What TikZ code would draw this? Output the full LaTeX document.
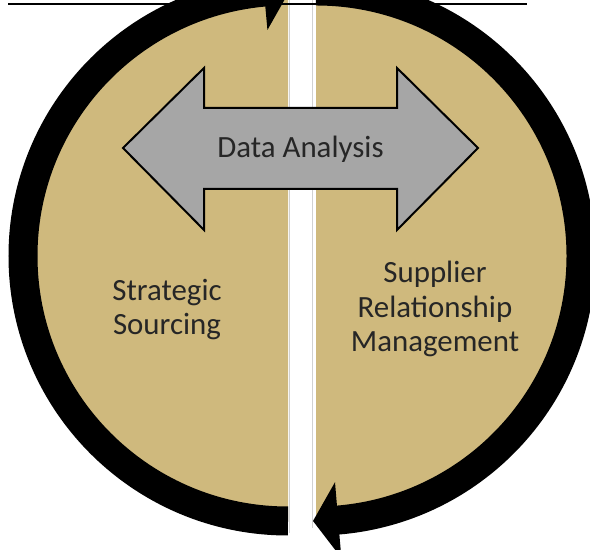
\documentclass[tikz,border=0pt]{standalone}
\usepackage{fontspec}
\setmainfont{Carlito}
\usetikzlibrary{calc}
\definecolor{sandtan}{RGB}{207,185,125}
\definecolor{arrowgray}{RGB}{166,166,166}
\definecolor{textdark}{RGB}{38,38,38}
\begin{document}
\begin{tikzpicture}[x=1bp,y=1bp,
  half/.style={fill=sandtan},
  ring/.style={line width=29bp,line cap=butt,black},
  seam/.style={draw=black!18,line width=0.8bp},
  label/.style={text=textdark,align=center,font=\fontsize{31}{34.5}\selectfont,inner sep=0pt},
  bigarrow/.style={fill=arrowgray,draw=black,line width=2bp,line join=miter}]
\useasboundingbox (0,0) rectangle (590,550);
\clip (0,0) rectangle (590,550);
\coordinate (CL) at (288,294);
\coordinate (CR) at (316,294);
% two half discs
\fill[half] (288,29) arc[start angle=270,end angle=90,radius=265] -- cycle;
\fill[half] (316,559) arc[start angle=90,end angle=-90,radius=265] -- cycle;
% edges of the gap between the halves
\draw[seam] (289.5,17) -- (289.5,550);
\draw[seam] (312.5,22) -- (312.5,550);
% rule across the top
\coordinate (ruleA) at (8,546);
\coordinate (ruleB) at (527,546);
\draw[line width=2.5bp] (ruleA) -- (ruleB);
% left ring, running up to the top arrowhead
\draw[ring] (288,29) arc[start angle=270,end angle=94.8,radius=265];
\fill ($(CL)+(95.2:227)$) -- ($(CL)+(95.2:303)$) -- (289.5,559) -- cycle;
% right ring, running down to the bottom arrowhead
\draw[ring] (316,559) arc[start angle=90,end angle=-85.6,radius=265];
\fill ($(CR)+(-85.2:227)$) -- ($(CR)+(-85.2:303)$) -- (313,29) -- cycle;
% double-headed arrow across the middle
\draw[bigarrow] (123,402) -- (204,482) -- (204,442) -- (397,442) -- (397,482)
  -- (478,402) -- (397,320) -- (397,361) -- (204,361) -- (204,320) -- cycle;
\node[label,anchor=base] (data) at (300.5,392) {Data Analysis};
\node[label] (sourcing) at (167,240.5) {Strategic\\Sourcing};
\node[label] (srm) at (435,241) {Supplier\\Relationship\\Management};
\end{tikzpicture}
\end{document}
